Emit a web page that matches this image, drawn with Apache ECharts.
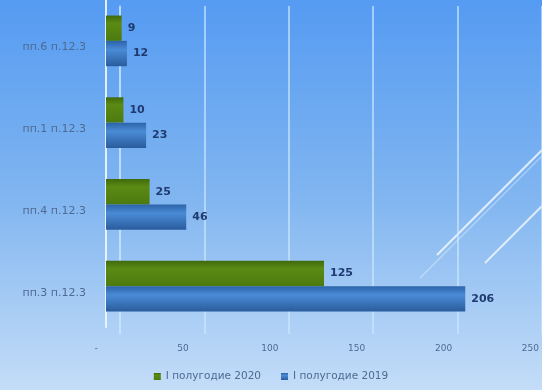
<!DOCTYPE html>
<html><head><meta charset="utf-8">
<script src="https://cdn.jsdelivr.net/npm/echarts@6/dist/echarts.min.js"></script>
<style>html,body{margin:0;padding:0;}#c{width:542px;height:390px;}</style>
</head><body><div id="c"></div>
<script>
// categories listed bottom-to-top
const categories = ["пп.3 п.12.3", "пп.4 п.12.3", "пп.1 п.12.3", "пп.6 п.12.3"];
const values2020 = [125, 25, 10, 9];
const values2019 = [206, 46, 23, 12];
const seriesNames = ["I полугодие 2020", "I полугодие 2019"];
const xMin = 0, xMax = 250, xStep = 50;

const chart = echarts.init(document.getElementById('c'));
const gTop = 6, gHeight = 328;
const labelStyle = {show: true, position: 'right', distance: 6, color: '#1f3a70', fontWeight: 'bold', fontSize: 11, fontFamily: 'DejaVu Sans'};
const txt = '#4f6a92';
chart.setOption({
  backgroundColor: {type: 'linear', x: 0, y: 0, x2: 0, y2: 1, colorStops: [
    {offset: 0, color: '#559bf2'}, {offset: 0.5, color: '#80b5f0'}, {offset: 1, color: '#c4ddf8'}]},
  animation: false,
  textStyle: {fontFamily: 'DejaVu Sans'},
  graphic: [
    {type: 'line', shape: {x1: 437, y1: 255, x2: 545, y2: 147}, style: {stroke: 'rgba(255,255,255,0.75)', lineWidth: 2}, silent: true},
    {type: 'line', shape: {x1: 420, y1: 278, x2: 545, y2: 153}, style: {stroke: 'rgba(255,255,255,0.35)', lineWidth: 1.5}, silent: true},
    {type: 'line', shape: {x1: 485, y1: 263, x2: 545, y2: 203}, style: {stroke: 'rgba(255,255,255,0.7)', lineWidth: 2}, silent: true}
  ],
  legend: {
    data: seriesNames, bottom: 3, left: 'center', itemWidth: 7, itemHeight: 7, itemGap: 20,
    icon: 'rect', textStyle: {color: txt, fontSize: 10.5}
  },
  grid: [
    {left: 106, top: gTop - 7, width: 442, height: gHeight},
    {left: 120, top: gTop, width: 435, height: gHeight},
    {left: 96, top: gTop, width: 435, height: gHeight}
  ],
  xAxis: [
    {gridIndex: 0, type: 'value', min: xMin, max: xMax, interval: xStep, axisLabel: {show: false}, splitLine: {show: false}, axisLine: {show: false}, axisTick: {show: false}},
    {gridIndex: 1, type: 'value', min: xMin, max: xMax, interval: xStep, axisLabel: {show: false}, axisLine: {show: false}, axisTick: {show: false},
      splitLine: {show: true, lineStyle: {color: 'rgba(205,232,255,0.65)', width: 2}}},
    {gridIndex: 2, type: 'value', min: xMin, max: xMax, interval: xStep, splitLine: {show: false}, axisLine: {show: false}, axisTick: {show: false},
      axisLabel: {color: txt, fontSize: 9, margin: 10, formatter: v => v === 0 ? '-' : String(v)}}
  ],
  yAxis: [
    {gridIndex: 0, type: 'category', data: categories, axisTick: {show: false}, axisLabel: {show: false}, offset: 5,
      axisLine: {show: true, lineStyle: {color: 'rgba(240,248,255,0.9)', width: 2}}},
    {gridIndex: 1, type: 'category', data: categories, axisTick: {show: false}, axisLabel: {show: false},
      axisLine: {show: true, lineStyle: {color: 'rgba(200,228,255,0.7)', width: 1.5}}},
    {gridIndex: 2, type: 'category', data: categories, axisTick: {show: false}, axisLine: {show: false},
      axisLabel: {color: txt, fontSize: 11, margin: 10}}
  ],
  series: [
    {name: seriesNames[0], type: 'bar', xAxisIndex: 0, yAxisIndex: 0, data: values2020,
      barGap: '0%', barCategoryGap: '38%',
      itemStyle: {color: {type: 'linear', x: 0, y: 0, x2: 0, y2: 1, colorStops: [
        {offset: 0, color: '#3f6a0c'}, {offset: 0.3, color: '#5b8a14'}, {offset: 1, color: '#4d7a0f'}]}},
      label: labelStyle},
    {name: seriesNames[1], type: 'bar', xAxisIndex: 0, yAxisIndex: 0, data: values2019,
      barGap: '0%', barCategoryGap: '38%',
      itemStyle: {color: {type: 'linear', x: 0, y: 0, x2: 0, y2: 1, colorStops: [
        {offset: 0, color: '#2c63a8'}, {offset: 0.35, color: '#4a8bd6'}, {offset: 1, color: '#2a5c9c'}]}},
      label: labelStyle}
  ]
});
</script></body></html>
